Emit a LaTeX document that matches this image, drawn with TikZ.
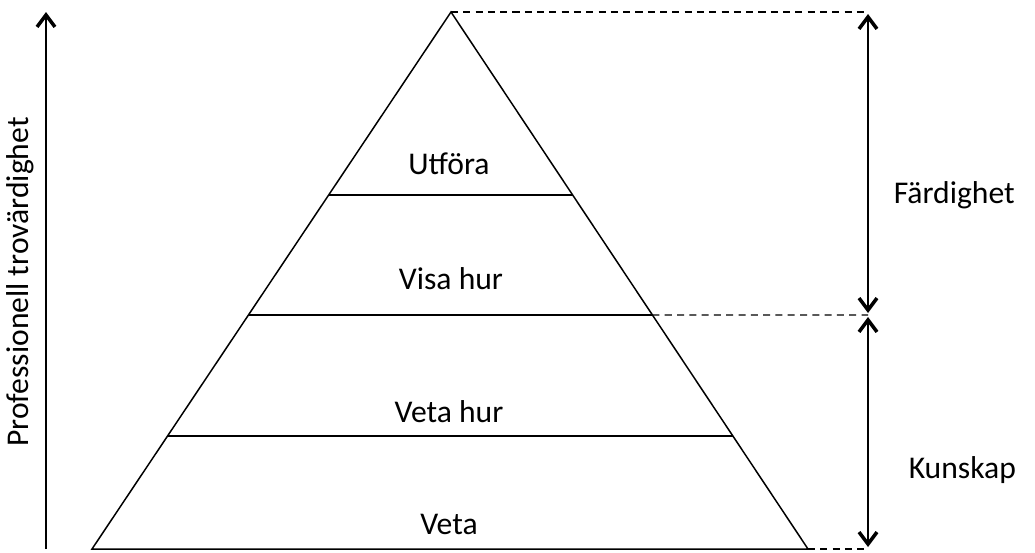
\documentclass[tikz,border=0pt]{standalone}
\usepackage{fontspec}
\setmainfont{Carlito}
\usetikzlibrary{positioning,calc,arrows.meta}

\begin{document}
\begin{tikzpicture}[x=0.02cm, y=-0.02cm, line width=0.85pt,
    lvltext/.style={font=\fontsize{18}{21}\selectfont},
    guide/.style={dashed, line width=0.7pt, dash pattern=on 4pt off 3pt},
    barb/.style={-{Straight Barb[length=2.4mm,width=3.6mm,line width=2pt]}},
    spanarrow/.style={{Straight Barb[length=2.4mm,width=3.6mm,line width=2pt]}-{Straight Barb[length=2.4mm,width=3.6mm,line width=2pt]}}]
        \useasboundingbox (0,0) rectangle (1035,552);

        %-----Pyramid-----
        \coordinate (apex) at (451,12);
        \coordinate (bl) at (92,549);
        \coordinate (br) at (808,549);
        \draw (apex) -- (bl) -- (br) -- cycle;

        % level lines
        \coordinate (l1a) at ($(apex)!0.3408!(bl)$);
        \coordinate (l1b) at ($(apex)!0.3408!(br)$);
        \coordinate (l2a) at ($(apex)!0.5642!(bl)$);
        \coordinate (l2b) at ($(apex)!0.5642!(br)$);
        \coordinate (l3a) at ($(apex)!0.7896!(bl)$);
        \coordinate (l3b) at ($(apex)!0.7896!(br)$);
        \draw (l1a) -- (l1b);
        \draw (l2a) -- (l2b);
        \draw (l3a) -- (l3b);

        % level labels
        \node[lvltext] (utfora) at (449,164) {Utföra};
        \node[lvltext] (visahur) at (451,279) {Visa hur};
        \node[lvltext] (vetahur) at (449,412) {Veta hur};
        \node[lvltext] (veta) at (449,524) {Veta};

        %-----Left axis-----
        \coordinate (axbot) at (46,549);
        \coordinate (axtop) at (46,12);
        \draw[barb] (axbot) -- (axtop);
        \node[lvltext, rotate=90] (trov) at (20,282) {Professionell trovärdighet};

        %-----Right spans-----
        \coordinate (dtop) at (868,12);
        \coordinate (dmid) at (868,315);
        \coordinate (dbot) at (868,549);
        \draw[guide] (apex) -- (dtop);
        \draw[guide] (l2b) -- (dmid);
        \draw[guide] (br) -- (dbot);

        \draw[spanarrow] ($(dmid)+(0,-2)$) -- ($(dtop)+(0,2)$);
        \draw[spanarrow] ($(dmid)+(0,2)$) -- ($(dbot)+(0,-2)$);

        \node[lvltext, anchor=west, inner sep=0pt] (fard) at (893,195) {Färdighet};
        \node[lvltext, anchor=west, inner sep=0pt] (kunskap) at (908,470) {Kunskap};
\end{tikzpicture}
\end{document}
